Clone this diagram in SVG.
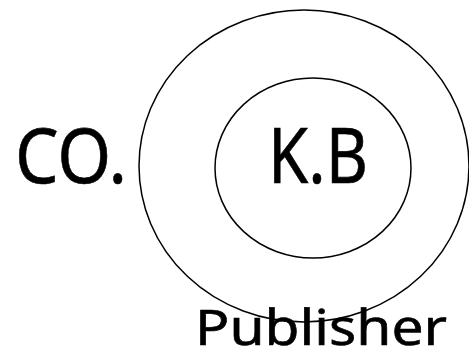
<svg xmlns="http://www.w3.org/2000/svg" width="469" height="360" viewBox="0 0 469 360">
<style>
.ring{fill:none;stroke:#000;stroke-width:1.5}
.lbl{font-family:"Noto Sans","DejaVu Sans",sans-serif;fill:#000;stroke:#000;stroke-width:0.6}
</style>
<rect width="469" height="360" fill="#fff"/>
<g id="outer"><ellipse class="ring" cx="304" cy="166" rx="165" ry="156"/></g>
<g id="inner"><ellipse class="ring" cx="313" cy="168" rx="98" ry="90"/></g>
<g id="connectors"></g>
<g id="co"><text class="lbl" x="15" y="183" font-size="76" textLength="112" lengthAdjust="spacingAndGlyphs">CO.</text></g>
<g id="kb"><text class="lbl" x="268" y="183" font-size="76" textLength="100" lengthAdjust="spacingAndGlyphs">K.B</text></g>
<g id="publisher"><text class="lbl" x="195" y="345" font-size="49" textLength="252" lengthAdjust="spacingAndGlyphs">Publisher</text></g>
</svg>
